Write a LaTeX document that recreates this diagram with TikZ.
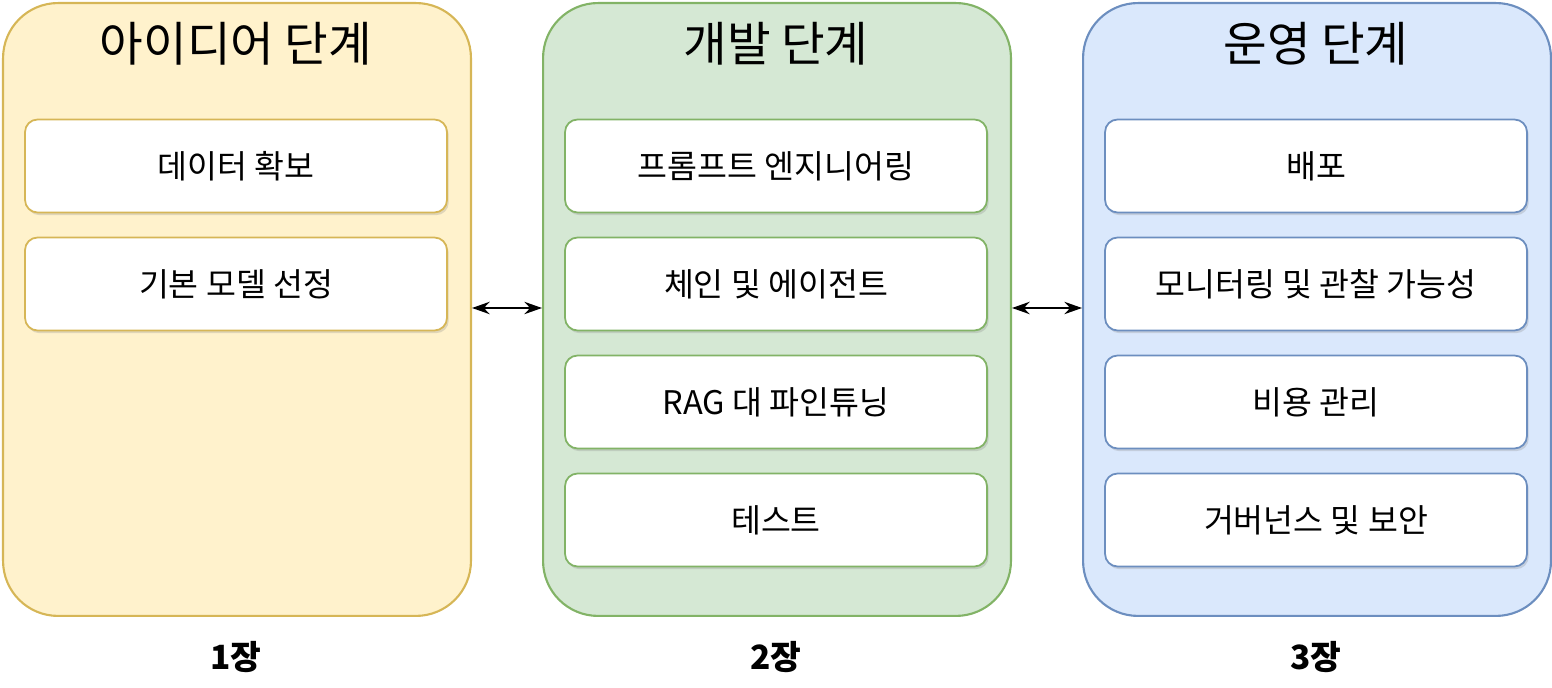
\documentclass[tikz,border=0pt]{standalone}
\usepackage{fontspec}
\setmainfont{Noto Sans CJK KR}
\usetikzlibrary{shadows,arrows.meta}
\definecolor{yf}{HTML}{FFF2CC}\definecolor{yd}{HTML}{D6B656}
\definecolor{gf}{HTML}{D5E8D4}\definecolor{gd}{HTML}{82B366}
\definecolor{bf}{HTML}{DAE8FC}\definecolor{bd}{HTML}{6C8EBF}
\begin{document}
\begin{tikzpicture}[x=0.02cm,y=-0.02cm,
 panel/.style={draw=#1,line width=1.2pt,rounded corners=1.1cm,minimum width=9.36cm,minimum height=12.26cm,anchor=north west,inner sep=0},
 item/.style={draw=#1,line width=1pt,fill=white,rounded corners=0.25cm,minimum width=8.44cm,minimum height=1.86cm,font=\fontsize{18.5}{22}\selectfont,drop shadow={opacity=0.25,shadow xshift=1pt,shadow yshift=-1.5pt}},
 title/.style={font=\fontsize{27}{32}\selectfont},
 lab/.style={font=\bfseries\fontsize{19}{22}\selectfont},
 arr/.style={{Stealth[length=10pt,width=7pt]}-{Stealth[length=10pt,width=7pt]},line width=1.2pt}]
\useasboundingbox (0,0) rectangle (1552,688);
\node[panel=yd,fill=yf] (p1) at (2,2) {};
\node[panel=gd,fill=gf] (p2) at (542,2) {};
\node[panel=bd,fill=bf] (p3) at (1082,2) {};
\node[title] (t1) at (236,44) {아이디어 단계};
\node[title] (t2) at (776,44) {개발 단계};
\node[title] (t3) at (1316,44) {운영 단계};
\node[item=yd] (a1) at (236,166) {데이터 확보};
\node[item=yd] (a2) at (236,284) {기본 모델 선정};
\node[item=gd] (b1) at (776,166) {프롬프트 엔지니어링};
\node[item=gd] (b2) at (776,284) {체인 및 에이전트};
\node[item=gd] (b3) at (776,402) {RAG 대 파인튜닝};
\node[item=gd] (b4) at (776,520) {테스트};
\node[item=bd] (c1) at (1316,166) {배포};
\node[item=bd] (c2) at (1316,284) {모니터링 및 관찰 가능성};
\node[item=bd] (c3) at (1316,402) {비용 관리};
\node[item=bd] (c4) at (1316,520) {거버넌스 및 보안};
\node[lab] (l1) at (236,657) {1장};
\node[lab] (l2) at (776,657) {2장};
\node[lab] (l3) at (1316,657) {3장};
\draw[arr] (p1.east |- 0,308) -- (p2.west |- 0,308);
\draw[arr] (p2.east |- 0,308) -- (p3.west |- 0,308);
\end{tikzpicture}
\end{document}
